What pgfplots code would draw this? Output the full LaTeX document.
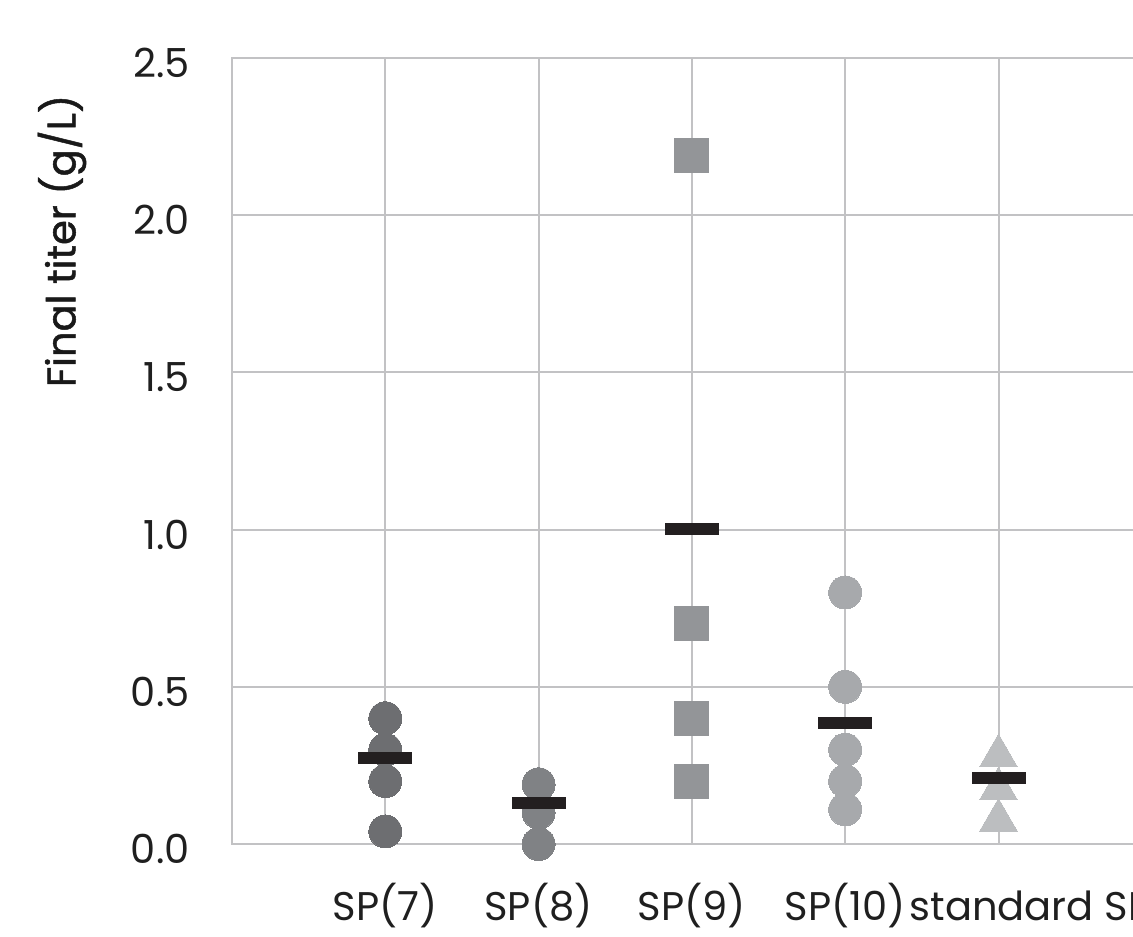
\documentclass[border=0pt]{standalone}
\usepackage{pgfplots}
\pgfplotsset{compat=1.18}
\usepackage{fontspec}
\setmainfont{Poppins}
\newfontfamily\titlefont{Poppins}[FakeBold=1.2]
\definecolor{cA}{HTML}{6D6E71}
\definecolor{cB}{HTML}{808285}
\definecolor{cC}{HTML}{939598}
\definecolor{cD}{HTML}{A7A9AC}
\definecolor{cE}{HTML}{BCBEC0}
\definecolor{barc}{HTML}{231F20}
\definecolor{gridc}{HTML}{C2C2C4}
\pgfdeclareplotmark{meanbar}{%
  \pgfpathrectangle{\pgfpoint{-13.5pt}{-3pt}}{\pgfpoint{27pt}{6pt}}%
  \pgfusepathqfill}
\begin{document}
\begin{tikzpicture}
\useasboundingbox (-116pt,-46pt) rectangle (450.5pt,422pt);
\clip (-116pt,-46pt) rectangle (450.5pt,422pt);
\begin{axis}[
  x=76.65pt, y=157.2pt,
  xmin=0, xmax=6, ymin=0, ymax=2.5,
  enlargelimits=false,
  clip=false,
  axis line style={gridc, line width=1pt},
  grid=major,
  grid style={gridc, line width=1pt},
  major tick length=0pt,
  xtick={1,2,3,4,5},
  xticklabels={SP(7),SP(8),SP(9),SP(10),\hspace*{32pt}standard SP},
  ytick={0,0.5,1,1.5,2,2.5},
  yticklabels={0.0,0.5,1.0,1.5,2.0,2.5},
  tick label style={font=\fontsize{20}{24}\selectfont, text=black!88},
  xticklabel style={anchor=base, inner sep=0pt, yshift=-38pt},
  yticklabel style={anchor=east, inner sep=0pt, xshift=-21pt, yshift=-2.5pt},
  ylabel={Final titer (g/L)},
  ylabel style={at={(axis cs:0,1.918)}, anchor=center, yshift=85pt, font=\titlefont\fontsize{20}{24}\selectfont, text=black!90},
]
\addplot[only marks, color=cA, mark=*, mark size=8.25pt, mark options={draw=cA, fill=cA, line width=0pt}] coordinates {(1,0.40) (1,0.30) (1,0.20) (1,0.04)};
\addplot[only marks, color=cB, mark=*, mark size=8.25pt, mark options={draw=cB, fill=cB, line width=0pt}] coordinates {(2,0.19) (2,0.10) (2,0.00)};
\addplot[only marks, color=cC, mark=square*, mark size=8.5pt, mark options={draw=cC, fill=cC, line width=0pt}] coordinates {(3,2.19) (3,0.70) (3,0.40) (3,0.20)};
\addplot[only marks, color=cD, mark=*, mark size=8.25pt, mark options={draw=cD, fill=cD, line width=0pt}] coordinates {(4,0.80) (4,0.50) (4,0.30) (4,0.20) (4,0.11)};
\addplot[only marks, color=cE, mark=triangle*, mark size=11pt, mark options={draw=cE, fill=cE, line width=0pt}] coordinates {(5,0.28) (5,0.175) (5,0.075)};
\addplot[only marks, color=barc, mark=meanbar, mark options={fill=barc}] coordinates {(1,0.274) (2,0.13) (3,1.002) (4,0.385) (5,0.21)};
\end{axis}
\end{tikzpicture}
\end{document}
